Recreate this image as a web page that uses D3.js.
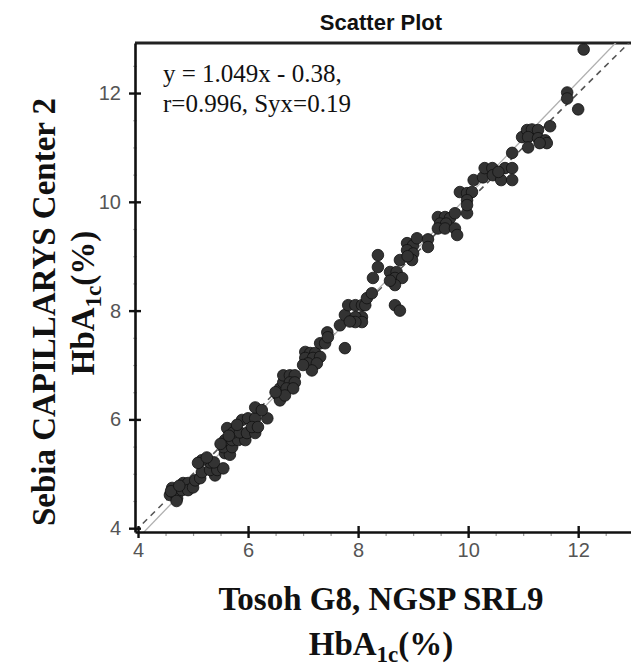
<!DOCTYPE html>
<html>
<head>
<meta charset="utf-8">
<script src="https://cdn.jsdelivr.net/npm/d3@7"></script>
<style>
  html, body { margin: 0; padding: 0; background: #fff; }
  svg { display: block; }
</style>
</head>
<body>
<div id="chart"></div>
<script>
// ---- data ----
const xValues = [
  4.58,4.62,4.67,4.71,4.60,4.80,4.82,4.91,4.91,5.00,5.04,4.75,4.70,
  5.13,5.16,5.40,5.31,5.44,5.55,5.31,5.38,5.16,5.09,5.25,
  5.58,5.67,5.55,5.71,5.58,5.71,5.82,5.95,5.62,5.73,5.85,5.98,6.13,5.89,6.00,6.13,6.35,6.07,6.18,6.13,6.25,5.80,5.65,5.50,
  6.55,6.58,6.58,6.64,6.64,6.76,6.85,6.76,6.85,6.70,6.82,6.67,6.50,
  7.04,7.13,7.22,7.04,7.18,7.31,7.09,7.25,7.16,7.31,7.40,7.44,7.45,7.00,
  7.67,7.76,7.82,7.95,8.07,8.07,7.95,8.07,7.95,7.85,7.76,
  8.13,8.16,8.25,8.27,8.36,8.36,
  8.67,8.76,
  8.58,8.70,8.67,8.80,8.67,8.58,
  8.89,9.00,9.07,9.27,9.27,8.89,9.00,8.98,8.76,8.90,
  9.45,9.58,9.67,9.49,9.60,9.45,9.58,9.76,9.80,9.76,9.98,
  9.85,9.98,10.07,9.98,9.98,
  10.10,10.27,10.30,10.44,10.45,10.60,10.67,10.80,10.80,10.55,10.80,
  10.98,11.07,11.16,11.27,11.09,11.27,11.40,11.43,11.30,11.09,11.49,
  11.80,11.80,12.00,12.10
];
const yValues = [
  4.61,4.74,4.64,4.55,4.68,4.70,4.83,4.83,4.70,4.75,4.88,4.78,4.50,
  4.92,5.03,4.97,5.07,5.07,5.10,5.21,5.21,5.25,5.20,5.30,
  5.38,5.35,5.49,5.49,5.62,5.62,5.62,5.62,5.84,5.76,5.76,5.75,5.75,5.99,6.02,6.02,6.02,5.86,5.86,6.22,6.17,5.90,5.70,5.55,
  6.44,6.35,6.57,6.68,6.81,6.81,6.81,6.68,6.68,6.57,6.57,6.44,6.50,
  7.24,7.22,7.22,7.13,7.13,7.15,7.03,7.03,6.90,7.40,7.40,7.60,7.51,7.00,
  7.73,7.92,8.10,8.10,8.10,7.88,7.88,7.79,7.79,7.80,7.31,
  8.10,8.23,8.32,8.60,8.80,9.02,
  8.10,8.00,
  8.71,8.71,8.60,8.60,8.47,8.55,
  9.24,9.20,9.33,9.31,9.17,9.11,9.05,8.93,8.93,9.00,
  9.72,9.72,9.70,9.60,9.60,9.51,9.51,9.51,9.39,9.79,9.79,
  10.18,10.16,10.18,10.03,9.94,
  10.40,10.45,10.62,10.62,10.49,10.40,10.62,10.62,10.40,10.55,10.90,
  11.19,11.32,11.33,11.32,11.19,11.17,11.13,11.08,11.08,11.00,11.39,
  12.01,11.90,11.70,12.80
];
const majorTicks = [4, 6, 8, 10, 12];
const minorTicks = [4.5, 5, 5.5, 6.5, 7, 7.5, 8.5, 9, 9.5, 10.5, 11, 11.5, 12.5];
const slope = 1.049;
const intercept = -0.38;
const chartTitle = "Scatter Plot";
const equationLines = ["y = 1.049x - 0.38,", "r=0.996, Syx=0.19"];
const yTitle = "Sebia CAPILLARYS Center 2";
const xTitle = "Tosoh G8, NGSP SRL9";
const unitParts = ["HbA", "1c", "(%)"];

// ---- layout ----
const W = 631, H = 666;
const mLeft = 135, mRight = 631, mTop = 43, mBottom = 532;

const svg = d3.select("#chart").append("svg")
  .attr("width", W).attr("height", H);

const x = d3.scaleLinear().domain([3.945, 12.96]).range([mLeft, mRight]);
const y = d3.scaleLinear().domain([3.93, 12.92]).range([mBottom, mTop]);

svg.append("defs").append("clipPath").attr("id", "plotclip")
  .append("rect").attr("x", mLeft).attr("y", mTop)
  .attr("width", mRight - mLeft).attr("height", mBottom - mTop);

// top border
svg.append("line")
  .attr("x1", mLeft).attr("x2", mRight).attr("y1", mTop).attr("y2", mTop)
  .attr("stroke", "#222").attr("stroke-width", 3);

// lines
const plot = svg.append("g").attr("clip-path", "url(#plotclip)");
const xd = x.domain();
plot.append("line")
  .attr("x1", x(xd[0])).attr("y1", y(xd[0]))
  .attr("x2", x(xd[1])).attr("y2", y(xd[1]))
  .attr("stroke", "#555").attr("stroke-width", 1.6)
  .attr("stroke-dasharray", "6,5");
plot.append("line")
  .attr("x1", x(xd[0])).attr("y1", y(slope * xd[0] + intercept))
  .attr("x2", x(xd[1])).attr("y2", y(slope * xd[1] + intercept))
  .attr("stroke", "#b0b0b0").attr("stroke-width", 1.3);

// points
const pts = xValues.map((v, i) => ({ x: v, y: yValues[i] }));
plot.selectAll("circle").data(pts).enter().append("circle")
  .attr("cx", d => x(d.x)).attr("cy", d => y(d.y))
  .attr("r", 5.8)
  .attr("fill", "#333").attr("stroke", "#111").attr("stroke-width", 0.8);

// axes
const tickFont = "'Liberation Sans', Arial, sans-serif";
const xMinor = svg.append("g").attr("transform", `translate(0,${mBottom})`)
  .call(d3.axisBottom(x).tickValues(minorTicks).tickSize(4).tickSizeOuter(0).tickFormat(""));
xMinor.select(".domain").remove();
xMinor.selectAll(".tick line").attr("stroke", "#999").attr("stroke-width", 1.2);

const yMinor = svg.append("g").attr("transform", `translate(${mLeft},0)`)
  .call(d3.axisLeft(y).tickValues(minorTicks).tickSize(4).tickSizeOuter(0).tickFormat(""));
yMinor.select(".domain").remove();
yMinor.selectAll(".tick line").attr("x1", -2).attr("x2", 2).attr("stroke", "#bbb").attr("stroke-width", 1.2);

const xAxis = svg.append("g").attr("transform", `translate(0,${mBottom})`)
  .call(d3.axisBottom(x).tickValues(majorTicks).tickSize(6).tickPadding(5).tickSizeOuter(0));
xAxis.select(".domain").attr("stroke", "#111").attr("stroke-width", 2.6);
xAxis.selectAll(".tick line").attr("y1", -6).attr("y2", 6).attr("stroke", "#111").attr("stroke-width", 2.4);
xAxis.selectAll("text").attr("font-family", tickFont).attr("font-size", 20).attr("fill", "#555");

const yAxis = svg.append("g").attr("transform", `translate(${mLeft},0)`)
  .call(d3.axisLeft(y).tickValues(majorTicks).tickSize(6).tickPadding(8).tickSizeOuter(0));
yAxis.select(".domain").attr("stroke", "#111").attr("stroke-width", 2.6);
yAxis.selectAll(".tick line").attr("x1", -6).attr("x2", 6).attr("stroke", "#111").attr("stroke-width", 2.4);
yAxis.selectAll("text").attr("font-family", tickFont).attr("font-size", 20).attr("fill", "#555");

// title
svg.append("text")
  .attr("x", 381).attr("y", 30)
  .attr("text-anchor", "middle")
  .attr("font-family", "'Liberation Sans', Arial, sans-serif")
  .attr("font-weight", "bold").attr("font-size", 22).attr("fill", "#111")
  .text(chartTitle);

// equation
const serif = "'Liberation Serif', 'Times New Roman', serif";
svg.append("g").selectAll("text").data(equationLines).enter().append("text")
  .attr("x", 163).attr("y", (d, i) => 82 + i * 30)
  .attr("font-family", serif).attr("font-size", 25).attr("fill", "#111")
  .text(d => d);

// axis titles
function unitText(sel) {
  sel.append("tspan").text(unitParts[0]);
  sel.append("tspan").attr("font-size", 23).attr("dy", 7).text(unitParts[1]);
  sel.append("tspan").attr("dy", -7).text(unitParts[2]);
}
svg.append("text")
  .attr("x", 381).attr("y", 610)
  .attr("text-anchor", "middle")
  .attr("font-family", serif).attr("font-weight", "bold").attr("font-size", 33).attr("fill", "#111")
  .text(xTitle);
svg.append("text")
  .attr("x", 381).attr("y", 655)
  .attr("text-anchor", "middle")
  .attr("font-family", serif).attr("font-weight", "bold").attr("font-size", 33).attr("fill", "#111")
  .call(unitText);

svg.append("text")
  .attr("transform", "translate(55,312) rotate(-90)")
  .attr("text-anchor", "middle")
  .attr("font-family", serif).attr("font-weight", "bold").attr("font-size", 33).attr("fill", "#111")
  .text(yTitle);
svg.append("text")
  .attr("transform", "translate(94,303) rotate(-90)")
  .attr("text-anchor", "middle")
  .attr("font-family", serif).attr("font-weight", "bold").attr("font-size", 33).attr("fill", "#111")
  .call(unitText);
</script>
</body>
</html>
